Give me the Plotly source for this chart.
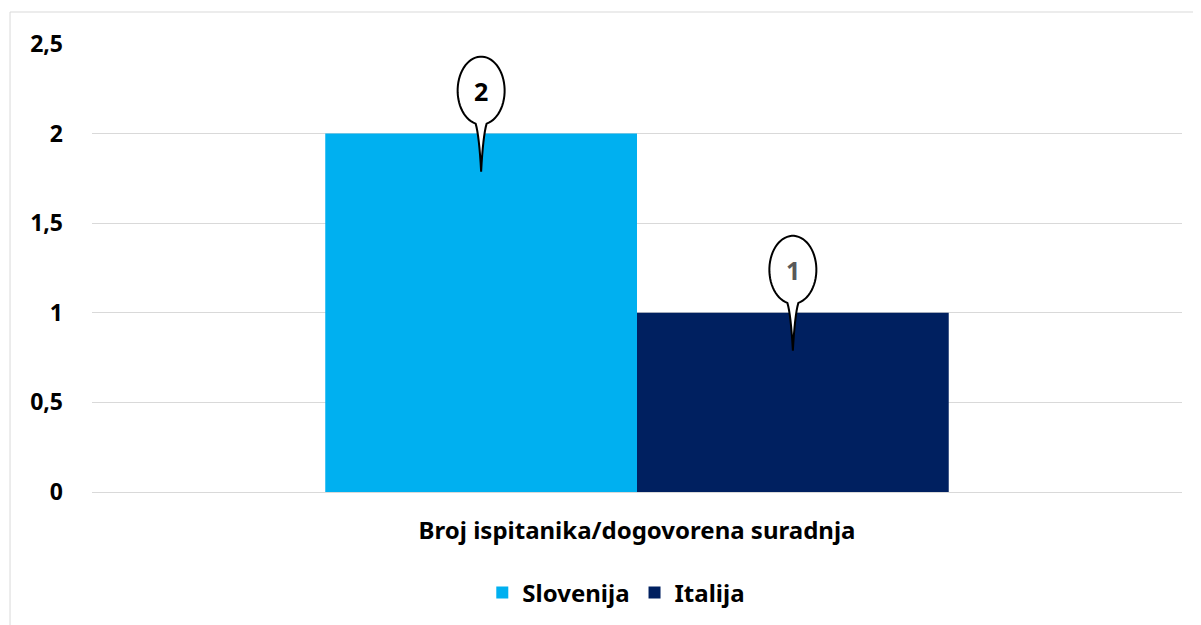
from __future__ import annotations

import numpy as np
import plotly.graph_objects as go

category = "Broj ispitanika/dogovorena suradnja"
series_names = ["Slovenija", "Italija"]
series_values = [2, 1]
series_colors = ["#00B0F0", "#002060"]
label_colors = ["#000000", "#595959"]

y_ticks = [0, 0.5, 1, 1.5, 2, 2.5]
y_tick_text = ["0", "0,5", "1", "1,5", "2", "2,5"]

FONT = "'Noto Sans', 'Open Sans', sans-serif"
BARGAP = 0.428


def _bubble_path(rx: float = 23.5, ry: float = 34.0, cy: float = 43.0,
                 tip: float = -38.0, neck: float = 5.5) -> str:
    # Speech-bubble outline in pixel offsets from the bar top (y points up).
    neck_y = cy - ry * np.sqrt(1 - (neck / rx) ** 2)
    start = np.arcsin(-(cy - neck_y) / ry)
    angles = np.linspace(start, np.pi - start, 60)
    pts = [f"L{rx * np.cos(a):.2f},{cy + ry * np.sin(a):.2f}" for a in angles[1:]]
    path = f"M0,{tip} Q{neck * 0.35:.2f},{neck_y - 12:.2f} {neck:.2f},{neck_y:.2f} "
    path += " ".join(pts)
    path += f" Q{-neck * 0.35:.2f},{neck_y - 12:.2f} 0,{tip} Z"
    return path


fig = go.Figure()
for name, value, color in zip(series_names, series_values, series_colors):
    fig.add_trace(
        go.Bar(
            x=[0],
            y=[value],
            name=f"<b>{name}</b>",
            marker=dict(color=color, line=dict(width=0)),
        )
    )

bar_width = (1 - BARGAP) / len(series_names)
path = _bubble_path()
for i, (value, lc) in enumerate(zip(series_values, label_colors)):
    xc = -0.5 * (1 - BARGAP) + bar_width * (i + 0.5)
    fig.add_shape(
        type="path",
        xref="x",
        yref="y",
        xsizemode="pixel",
        ysizemode="pixel",
        xanchor=xc,
        yanchor=value,
        path=path,
        fillcolor="white",
        line=dict(color="black", width=2),
        layer="above",
    )
    fig.add_annotation(
        x=xc,
        y=value,
        yshift=43,
        text=f"<b>{value}</b>",
        showarrow=False,
        font=dict(family=FONT, size=25, color=lc),
    )

# light grey chart-area border (runs off the right/bottom of the page)
fig.add_shape(
    type="rect",
    xref="paper",
    yref="paper",
    x0=-0.0752,
    x1=1.2,
    y0=-0.5,
    y1=1.0714,
    line=dict(color="#D9D9D9", width=1),
    layer="below",
)

fig.update_layout(
    width=1201,
    height=625,
    autosize=False,
    margin=dict(l=84, r=27, t=36, b=141),
    paper_bgcolor="white",
    plot_bgcolor="white",
    barmode="group",
    bargap=BARGAP,
    bargroupgap=0,
    font=dict(family=FONT, size=22, color="black"),
    showlegend=True,
    legend=dict(
        orientation="h",
        x=0.481,
        xanchor="center",
        y=-0.225,
        yanchor="middle",
        font=dict(family=FONT, size=24, color="black"),
        traceorder="normal",
    ),
)
fig.update_xaxes(
    range=[-0.5, 0.5],
    tickvals=[0],
    ticktext=[f"<b>{category}</b>"],
    showgrid=False,
    zeroline=False,
    showline=False,
    ticks="",
    ticklabelstandoff=22,
    tickfont=dict(family=FONT, size=24, color="black"),
)
fig.update_yaxes(
    range=[0, 2.5],
    tickvals=y_ticks,
    ticktext=[f"<b>{t}</b>" for t in y_tick_text],
    showgrid=True,
    gridcolor="#D9D9D9",
    gridwidth=1,
    zeroline=True,
    zerolinecolor="#D9D9D9",
    zerolinewidth=1,
    showline=False,
    ticks="",
    ticklabelstandoff=28,
    tickfont=dict(family=FONT, size=23, color="black"),
)

fig.write_html("out.html")
